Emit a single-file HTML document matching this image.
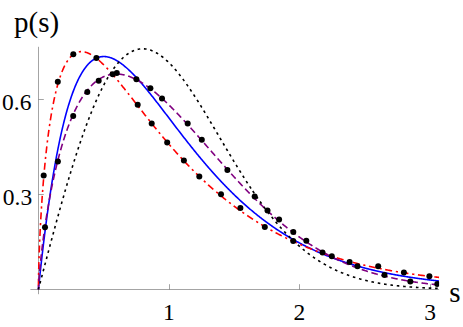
<!DOCTYPE html>
<html><head><meta charset="utf-8"><title>p(s)</title>
<style>
html,body{margin:0;padding:0;background:#fff;}
body{width:463px;height:327px;overflow:hidden;position:relative;font-family:"Liberation Serif",serif;color:#000;}
svg{position:absolute;left:0;top:0;}
.t{position:absolute;white-space:nowrap;line-height:1;}
</style></head><body>
<svg width="463" height="327" viewBox="0 0 463 327">
<defs><clipPath id="c"><rect x="30.4" y="46.4" width="408.70000000000005" height="247.79999999999998"/></clipPath></defs>
<g fill="none" stroke="#666666" stroke-width="0.6">
<path d="M30.4,289.5 H439.1"/>
<path d="M38.5,46.8 V294.2"/>
<path d="M169.5,289.5 V284.2 M299.5,289.5 V284.2 M430.5,289.5 V284.2"/>
<path d="M38.5,194.5 H43.8 M38.5,99.5 H43.8"/>
</g>
<g fill="none" stroke-width="1.6" clip-path="url(#c)" stroke-linejoin="round">
<path d="M38.40,289.40 L38.51,288.33 L38.62,287.26 L38.73,286.20 L38.84,285.14 L38.95,284.08 L39.06,283.03 L39.17,281.98 L39.29,280.93 L39.40,279.89 L39.51,278.85 L39.62,277.82 L39.73,276.78 L39.84,275.76 L39.95,274.73 L40.06,273.71 L40.17,272.69 L40.28,271.68 L40.39,270.67 L40.50,269.66 L40.61,268.66 L40.72,267.66 L40.83,266.66 L40.95,265.67 L41.06,264.68 L41.17,263.69 L41.28,262.71 L41.39,261.73 L41.50,260.75 L41.61,259.78 L41.72,258.81 L41.83,257.84 L41.94,256.88 L42.05,255.92 L42.16,254.96 L42.27,254.01 L42.38,253.06 L42.50,252.12 L42.61,251.17 L42.72,250.23 L42.83,249.30 L42.94,248.36 L43.05,247.44 L43.16,246.51 L43.27,245.59 L43.38,244.67 L43.49,243.75 L43.60,242.84 L43.71,241.93 L43.82,241.02 L43.93,240.11 L44.04,239.21 L44.16,238.32 L44.27,237.42 L44.38,236.53 L44.49,235.64 L44.60,234.76 L44.71,233.88 L44.82,233.00 L44.93,232.12 L45.49,227.71 L46.06,223.38 L46.62,219.13 L47.19,214.95 L47.75,210.86 L48.31,206.83 L48.88,202.89 L49.44,199.02 L50.01,195.22 L50.57,191.49 L51.13,187.83 L51.70,184.25 L52.26,180.73 L52.83,177.28 L53.39,173.90 L53.95,170.58 L54.52,167.33 L55.08,164.15 L55.65,161.03 L56.21,157.97 L56.77,154.97 L57.34,152.04 L57.90,149.17 L58.47,146.35 L59.03,143.59 L59.59,140.90 L60.16,138.26 L60.72,135.67 L61.29,133.14 L61.85,130.67 L62.41,128.25 L62.98,125.88 L63.54,123.57 L64.11,121.31 L64.67,119.10 L65.23,116.94 L65.80,114.82 L66.36,112.76 L66.92,110.75 L67.49,108.78 L68.05,106.87 L68.62,104.99 L69.18,103.17 L69.74,101.39 L70.31,99.65 L70.87,97.96 L71.44,96.31 L72.00,94.70 L72.56,93.13 L73.13,91.61 L73.69,90.13 L74.26,88.68 L74.82,87.28 L75.38,85.91 L75.95,84.59 L76.51,83.30 L77.08,82.05 L77.64,80.83 L78.20,79.65 L78.77,78.51 L79.33,77.40 L79.90,76.33 L80.46,75.29 L81.02,74.29 L81.59,73.32 L82.15,72.38 L82.72,71.47 L83.28,70.59 L83.84,69.75 L84.41,68.94 L84.97,68.15 L85.54,67.40 L86.10,66.68 L86.66,65.98 L87.23,65.31 L87.79,64.67 L88.36,64.06 L88.92,63.48 L89.48,62.92 L90.05,62.39 L90.61,61.88 L91.18,61.40 L91.74,60.95 L92.30,60.52 L92.87,60.11 L93.43,59.73 L94.00,59.37 L94.56,59.04 L95.12,58.73 L95.69,58.44 L96.25,58.17 L96.82,57.92 L97.38,57.70 L97.94,57.49 L98.51,57.31 L99.07,57.15 L99.64,57.00 L100.20,56.88 L100.76,56.78 L101.33,56.69 L101.89,56.62 L102.46,56.58 L103.02,56.55 L103.58,56.53 L104.15,56.54 L104.71,56.56 L105.27,56.60 L105.84,56.65 L106.40,56.73 L106.97,56.81 L107.53,56.92 L108.09,57.04 L108.66,57.17 L109.22,57.32 L109.79,57.48 L110.35,57.66 L110.91,57.85 L111.48,58.06 L112.04,58.28 L112.61,58.51 L113.17,58.76 L113.73,59.02 L114.30,59.29 L114.86,59.57 L115.43,59.87 L115.99,60.17 L116.55,60.49 L117.12,60.82 L117.68,61.17 L118.25,61.52 L118.81,61.88 L119.37,62.26 L119.94,62.64 L120.50,63.04 L121.07,63.44 L121.63,63.86 L122.19,64.28 L122.76,64.72 L123.32,65.16 L123.89,65.61 L124.45,66.07 L125.01,66.54 L125.58,67.02 L126.14,67.51 L126.71,68.00 L127.27,68.50 L127.83,69.01 L128.40,69.53 L128.96,70.05 L129.53,70.59 L130.09,71.12 L130.65,71.67 L131.22,72.22 L131.78,72.78 L132.35,73.35 L132.91,73.92 L133.47,74.50 L134.04,75.08 L134.60,75.67 L135.17,76.27 L135.73,76.87 L136.29,77.48 L136.86,78.09 L137.42,78.71 L137.99,79.33 L138.55,79.96 L139.11,80.59 L139.68,81.22 L140.24,81.86 L140.81,82.51 L141.37,83.16 L141.93,83.81 L142.50,84.47 L143.06,85.13 L143.63,85.80 L144.19,86.47 L144.75,87.14 L145.32,87.81 L145.88,88.49 L146.44,89.18 L147.01,89.86 L147.57,90.55 L148.14,91.24 L148.70,91.94 L149.26,92.63 L149.83,93.33 L150.39,94.04 L150.96,94.74 L151.52,95.45 L152.08,96.16 L152.65,96.87 L153.21,97.58 L153.78,98.30 L154.34,99.01 L154.90,99.73 L155.47,100.45 L156.03,101.18 L156.60,101.90 L157.16,102.63 L157.72,103.35 L158.29,104.08 L158.85,104.81 L159.42,105.54 L159.98,106.27 L160.54,107.01 L161.11,107.74 L161.67,108.47 L162.24,109.21 L162.80,109.94 L163.36,110.68 L163.93,111.42 L164.49,112.16 L165.06,112.89 L165.62,113.63 L166.18,114.37 L166.75,115.11 L167.31,115.85 L167.88,116.59 L168.44,117.33 L169.00,118.07 L169.57,118.81 L170.13,119.55 L170.70,120.29 L171.26,121.03 L171.82,121.77 L172.39,122.51 L172.95,123.25 L173.52,123.98 L174.08,124.72 L174.64,125.46 L175.21,126.20 L175.77,126.93 L176.34,127.67 L176.90,128.40 L177.46,129.14 L178.03,129.87 L178.59,130.61 L179.16,131.34 L179.72,132.07 L180.28,132.80 L180.85,133.53 L181.41,134.26 L181.98,134.99 L182.54,135.71 L183.10,136.44 L183.67,137.16 L184.23,137.89 L184.79,138.61 L185.36,139.33 L185.92,140.05 L186.49,140.77 L187.05,141.48 L187.61,142.20 L188.18,142.91 L188.74,143.63 L189.31,144.34 L189.87,145.05 L190.43,145.76 L191.00,146.46 L191.56,147.17 L192.13,147.87 L192.69,148.57 L193.25,149.28 L193.82,149.97 L194.38,150.67 L194.95,151.37 L195.51,152.06 L196.07,152.75 L196.64,153.44 L197.20,154.13 L197.77,154.82 L198.33,155.51 L198.89,156.19 L199.46,156.87 L200.02,157.55 L200.59,158.23 L201.15,158.90 L201.71,159.58 L202.28,160.25 L202.84,160.92 L203.41,161.59 L203.97,162.25 L204.53,162.92 L205.10,163.58 L205.66,164.24 L206.23,164.90 L206.79,165.55 L207.35,166.21 L207.92,166.86 L208.48,167.51 L209.05,168.16 L209.61,168.80 L210.17,169.44 L210.74,170.09 L211.30,170.72 L211.87,171.36 L212.43,172.00 L212.99,172.63 L213.56,173.26 L214.12,173.89 L214.69,174.51 L215.25,175.14 L215.81,175.76 L216.38,176.38 L216.94,176.99 L217.51,177.61 L218.07,178.22 L218.63,178.83 L219.20,179.44 L219.76,180.04 L220.33,180.65 L220.89,181.25 L221.45,181.85 L222.02,182.44 L222.58,183.04 L223.15,183.63 L223.71,184.22 L224.27,184.81 L224.84,185.39 L225.40,185.97 L225.96,186.55 L226.53,187.13 L227.09,187.71 L227.66,188.28 L228.22,188.85 L228.78,189.42 L229.35,189.98 L229.91,190.55 L230.48,191.11 L231.04,191.67 L231.60,192.23 L232.17,192.78 L232.73,193.33 L233.30,193.88 L233.86,194.43 L234.42,194.97 L234.99,195.52 L235.55,196.06 L236.12,196.60 L236.68,197.13 L237.24,197.66 L237.81,198.20 L238.37,198.72 L238.94,199.25 L239.50,199.77 L240.06,200.30 L240.63,200.81 L241.19,201.33 L241.76,201.85 L242.32,202.36 L242.88,202.87 L243.45,203.38 L244.01,203.88 L244.58,204.38 L245.14,204.88 L245.70,205.38 L246.27,205.88 L246.83,206.37 L247.40,206.86 L247.96,207.35 L248.52,207.84 L249.09,208.32 L249.65,208.81 L250.22,209.28 L250.78,209.76 L251.34,210.24 L251.91,210.71 L252.47,211.18 L253.04,211.65 L253.60,212.12 L254.16,212.58 L254.73,213.04 L255.29,213.50 L255.86,213.96 L256.42,214.41 L256.98,214.86 L257.55,215.31 L258.11,215.76 L258.68,216.21 L259.24,216.65 L259.80,217.09 L260.37,217.53 L260.93,217.97 L261.50,218.40 L262.06,218.84 L262.62,219.27 L263.19,219.70 L263.75,220.12 L264.31,220.55 L264.88,220.97 L265.44,221.39 L266.01,221.80 L266.57,222.22 L267.13,222.63 L267.70,223.04 L268.26,223.45 L268.83,223.86 L269.39,224.26 L269.95,224.67 L270.52,225.07 L271.08,225.46 L271.65,225.86 L272.21,226.26 L272.77,226.65 L273.34,227.04 L273.90,227.43 L274.47,227.81 L275.03,228.19 L275.59,228.58 L276.16,228.96 L276.72,229.33 L277.29,229.71 L277.85,230.08 L278.41,230.45 L278.98,230.82 L279.54,231.19 L280.11,231.56 L280.67,231.92 L281.23,232.28 L281.80,232.64 L282.36,233.00 L282.93,233.36 L283.49,233.71 L284.05,234.06 L284.62,234.41 L285.18,234.76 L285.75,235.11 L286.31,235.45 L286.87,235.79 L287.44,236.13 L288.00,236.47 L288.57,236.81 L289.13,237.14 L289.69,237.47 L290.26,237.81 L290.82,238.13 L291.39,238.46 L291.95,238.79 L292.51,239.11 L293.08,239.43 L293.64,239.75 L294.21,240.07 L294.77,240.39 L295.33,240.70 L295.90,241.01 L296.46,241.33 L297.03,241.64 L297.59,241.94 L298.15,242.25 L298.72,242.55 L299.28,242.85 L299.85,243.16 L300.41,243.45 L300.97,243.75 L301.54,244.05 L302.10,244.34 L302.66,244.63 L303.23,244.92 L303.79,245.21 L304.36,245.50 L304.92,245.78 L305.48,246.07 L306.05,246.35 L306.61,246.63 L307.18,246.91 L307.74,247.18 L308.30,247.46 L308.87,247.73 L309.43,248.01 L310.00,248.28 L310.56,248.55 L311.12,248.81 L311.69,249.08 L312.25,249.34 L312.82,249.61 L313.38,249.87 L313.94,250.13 L314.51,250.38 L315.07,250.64 L315.64,250.90 L316.20,251.15 L316.76,251.40 L317.33,251.65 L317.89,251.90 L318.46,252.15 L319.02,252.39 L319.58,252.64 L320.15,252.88 L320.71,253.12 L321.28,253.36 L321.84,253.60 L322.40,253.84 L322.97,254.07 L323.53,254.31 L324.10,254.54 L324.66,254.77 L325.22,255.00 L325.79,255.23 L326.35,255.46 L326.92,255.69 L327.48,255.91 L328.04,256.13 L328.61,256.36 L329.17,256.58 L329.74,256.80 L330.30,257.01 L330.86,257.23 L331.43,257.44 L331.99,257.66 L332.56,257.87 L333.12,258.08 L333.68,258.29 L334.25,258.50 L334.81,258.71 L335.38,258.91 L335.94,259.12 L336.50,259.32 L337.07,259.52 L337.63,259.73 L338.20,259.93 L338.76,260.12 L339.32,260.32 L339.89,260.52 L340.45,260.71 L341.02,260.91 L341.58,261.10 L342.14,261.29 L342.71,261.48 L343.27,261.67 L343.83,261.86 L344.40,262.04 L344.96,262.23 L345.53,262.41 L346.09,262.59 L346.65,262.78 L347.22,262.96 L347.78,263.14 L348.35,263.31 L348.91,263.49 L349.47,263.67 L350.04,263.84 L350.60,264.02 L351.17,264.19 L351.73,264.36 L352.29,264.53 L352.86,264.70 L353.42,264.87 L353.99,265.04 L354.55,265.20 L355.11,265.37 L355.68,265.53 L356.24,265.70 L356.81,265.86 L357.37,266.02 L357.93,266.18 L358.50,266.34 L359.06,266.50 L359.63,266.65 L360.19,266.81 L360.75,266.97 L361.32,267.12 L361.88,267.27 L362.45,267.42 L363.01,267.58 L363.57,267.73 L364.14,267.87 L364.70,268.02 L365.27,268.17 L365.83,268.32 L366.39,268.46 L366.96,268.61 L367.52,268.75 L368.09,268.89 L368.65,269.03 L369.21,269.17 L369.78,269.31 L370.34,269.45 L370.91,269.59 L371.47,269.73 L372.03,269.86 L372.60,270.00 L373.16,270.13 L373.73,270.27 L374.29,270.40 L374.85,270.53 L375.42,270.66 L375.98,270.79 L376.55,270.92 L377.11,271.05 L377.67,271.18 L378.24,271.30 L378.80,271.43 L379.37,271.55 L379.93,271.68 L380.49,271.80 L381.06,271.92 L381.62,272.05 L382.18,272.17 L382.75,272.29 L383.31,272.41 L383.88,272.53 L384.44,272.64 L385.00,272.76 L385.57,272.88 L386.13,272.99 L386.70,273.11 L387.26,273.22 L387.82,273.33 L388.39,273.45 L388.95,273.56 L389.52,273.67 L390.08,273.78 L390.64,273.89 L391.21,274.00 L391.77,274.11 L392.34,274.21 L392.90,274.32 L393.46,274.43 L394.03,274.53 L394.59,274.64 L395.16,274.74 L395.72,274.84 L396.28,274.94 L396.85,275.05 L397.41,275.15 L397.98,275.25 L398.54,275.35 L399.10,275.45 L399.67,275.54 L400.23,275.64 L400.80,275.74 L401.36,275.84 L401.92,275.93 L402.49,276.03 L403.05,276.12 L403.62,276.22 L404.18,276.31 L404.74,276.40 L405.31,276.49 L405.87,276.58 L406.44,276.67 L407.00,276.76 L407.56,276.85 L408.13,276.94 L408.69,277.03 L409.26,277.12 L409.82,277.21 L410.38,277.29 L410.95,277.38 L411.51,277.46 L412.08,277.55 L412.64,277.63 L413.20,277.72 L413.77,277.80 L414.33,277.88 L414.90,277.96 L415.46,278.05 L416.02,278.13 L416.59,278.21 L417.15,278.29 L417.72,278.37 L418.28,278.44 L418.84,278.52 L419.41,278.60 L419.97,278.68 L420.54,278.75 L421.10,278.83 L421.66,278.90 L422.23,278.98 L422.79,279.05 L423.35,279.13 L423.92,279.20 L424.48,279.27 L425.05,279.35 L425.61,279.42 L426.17,279.49 L426.74,279.56 L427.30,279.63 L427.87,279.70 L428.43,279.77 L428.99,279.84 L429.56,279.91 L430.12,279.98 L430.69,280.04 L431.25,280.11 L431.81,280.18 L432.38,280.24 L432.94,280.31 L433.51,280.37 L434.07,280.44 L434.63,280.50 L435.20,280.57 L435.76,280.63 L436.33,280.69 L436.89,280.76 L437.45,280.82 L438.02,280.88 L438.58,280.94 L439.15,281.00" stroke="#0000ff"/>
<path d="M38.40,289.40 L38.51,279.26 L38.62,273.60 L38.73,268.93 L38.84,264.82 L38.95,261.08 L39.06,257.62 L39.17,254.38 L39.29,251.31 L39.40,248.39 L39.51,245.60 L39.62,242.91 L39.73,240.33 L39.84,237.83 L39.95,235.42 L40.06,233.07 L40.17,230.80 L40.28,228.58 L40.39,226.42 L40.50,224.31 L40.61,222.25 L40.72,220.24 L40.83,218.27 L40.95,216.35 L41.06,214.46 L41.17,212.61 L41.28,210.79 L41.39,209.01 L41.50,207.26 L41.61,205.54 L41.72,203.85 L41.83,202.19 L41.94,200.55 L42.05,198.94 L42.16,197.36 L42.27,195.80 L42.38,194.26 L42.50,192.75 L42.61,191.26 L42.72,189.79 L42.83,188.34 L42.94,186.91 L43.05,185.50 L43.16,184.11 L43.27,182.74 L43.38,181.38 L43.49,180.05 L43.60,178.73 L43.71,177.42 L43.82,176.13 L43.93,174.86 L44.04,173.61 L44.16,172.37 L44.27,171.14 L44.38,169.93 L44.49,168.73 L44.60,167.55 L44.71,166.38 L44.82,165.22 L44.93,164.08 L45.49,158.44 L46.06,153.10 L46.62,148.05 L47.19,143.24 L47.75,138.67 L48.31,134.32 L48.88,130.17 L49.44,126.21 L50.01,122.44 L50.57,118.83 L51.13,115.38 L51.70,112.09 L52.26,108.94 L52.83,105.92 L53.39,103.04 L53.95,100.28 L54.52,97.64 L55.08,95.11 L55.65,92.69 L56.21,90.38 L56.77,88.17 L57.34,86.05 L57.90,84.02 L58.47,82.08 L59.03,80.23 L59.59,78.46 L60.16,76.77 L60.72,75.16 L61.29,73.61 L61.85,72.14 L62.41,70.74 L62.98,69.41 L63.54,68.13 L64.11,66.92 L64.67,65.77 L65.23,64.68 L65.80,63.65 L66.36,62.66 L66.92,61.73 L67.49,60.85 L68.05,60.03 L68.62,59.24 L69.18,58.51 L69.74,57.82 L70.31,57.17 L70.87,56.56 L71.44,56.00 L72.00,55.47 L72.56,54.99 L73.13,54.54 L73.69,54.13 L74.26,53.75 L74.82,53.41 L75.38,53.10 L75.95,52.82 L76.51,52.57 L77.08,52.36 L77.64,52.17 L78.20,52.01 L78.77,51.88 L79.33,51.78 L79.90,51.70 L80.46,51.65 L81.02,51.62 L81.59,51.62 L82.15,51.64 L82.72,51.69 L83.28,51.75 L83.84,51.84 L84.41,51.95 L84.97,52.08 L85.54,52.23 L86.10,52.40 L86.66,52.58 L87.23,52.79 L87.79,53.01 L88.36,53.25 L88.92,53.51 L89.48,53.78 L90.05,54.07 L90.61,54.37 L91.18,54.69 L91.74,55.02 L92.30,55.37 L92.87,55.73 L93.43,56.10 L94.00,56.49 L94.56,56.89 L95.12,57.30 L95.69,57.72 L96.25,58.16 L96.82,58.60 L97.38,59.06 L97.94,59.52 L98.51,60.00 L99.07,60.49 L99.64,60.98 L100.20,61.49 L100.76,62.00 L101.33,62.52 L101.89,63.06 L102.46,63.59 L103.02,64.14 L103.58,64.70 L104.15,65.26 L104.71,65.83 L105.27,66.40 L105.84,66.99 L106.40,67.58 L106.97,68.17 L107.53,68.77 L108.09,69.38 L108.66,69.99 L109.22,70.61 L109.79,71.24 L110.35,71.87 L110.91,72.50 L111.48,73.14 L112.04,73.78 L112.61,74.43 L113.17,75.08 L113.73,75.74 L114.30,76.40 L114.86,77.06 L115.43,77.73 L115.99,78.40 L116.55,79.07 L117.12,79.75 L117.68,80.43 L118.25,81.11 L118.81,81.80 L119.37,82.49 L119.94,83.18 L120.50,83.87 L121.07,84.57 L121.63,85.27 L122.19,85.97 L122.76,86.67 L123.32,87.38 L123.89,88.08 L124.45,88.79 L125.01,89.50 L125.58,90.21 L126.14,90.92 L126.71,91.63 L127.27,92.35 L127.83,93.06 L128.40,93.78 L128.96,94.50 L129.53,95.22 L130.09,95.93 L130.65,96.65 L131.22,97.37 L131.78,98.10 L132.35,98.82 L132.91,99.54 L133.47,100.26 L134.04,100.98 L134.60,101.71 L135.17,102.43 L135.73,103.15 L136.29,103.87 L136.86,104.60 L137.42,105.32 L137.99,106.04 L138.55,106.76 L139.11,107.48 L139.68,108.20 L140.24,108.93 L140.81,109.65 L141.37,110.37 L141.93,111.09 L142.50,111.80 L143.06,112.52 L143.63,113.24 L144.19,113.96 L144.75,114.67 L145.32,115.39 L145.88,116.10 L146.44,116.81 L147.01,117.53 L147.57,118.24 L148.14,118.95 L148.70,119.66 L149.26,120.37 L149.83,121.07 L150.39,121.78 L150.96,122.48 L151.52,123.19 L152.08,123.89 L152.65,124.59 L153.21,125.29 L153.78,125.99 L154.34,126.69 L154.90,127.38 L155.47,128.08 L156.03,128.77 L156.60,129.46 L157.16,130.15 L157.72,130.84 L158.29,131.53 L158.85,132.21 L159.42,132.90 L159.98,133.58 L160.54,134.26 L161.11,134.94 L161.67,135.61 L162.24,136.29 L162.80,136.96 L163.36,137.64 L163.93,138.31 L164.49,138.98 L165.06,139.64 L165.62,140.31 L166.18,140.97 L166.75,141.63 L167.31,142.29 L167.88,142.95 L168.44,143.61 L169.00,144.26 L169.57,144.91 L170.13,145.56 L170.70,146.21 L171.26,146.86 L171.82,147.50 L172.39,148.15 L172.95,148.79 L173.52,149.43 L174.08,150.06 L174.64,150.70 L175.21,151.33 L175.77,151.96 L176.34,152.59 L176.90,153.22 L177.46,153.84 L178.03,154.47 L178.59,155.09 L179.16,155.71 L179.72,156.33 L180.28,156.94 L180.85,157.55 L181.41,158.16 L181.98,158.77 L182.54,159.38 L183.10,159.99 L183.67,160.59 L184.23,161.19 L184.79,161.79 L185.36,162.38 L185.92,162.98 L186.49,163.57 L187.05,164.16 L187.61,164.75 L188.18,165.34 L188.74,165.92 L189.31,166.50 L189.87,167.08 L190.43,167.66 L191.00,168.24 L191.56,168.81 L192.13,169.38 L192.69,169.95 L193.25,170.52 L193.82,171.08 L194.38,171.65 L194.95,172.21 L195.51,172.77 L196.07,173.33 L196.64,173.88 L197.20,174.43 L197.77,174.98 L198.33,175.53 L198.89,176.08 L199.46,176.62 L200.02,177.17 L200.59,177.71 L201.15,178.24 L201.71,178.78 L202.28,179.31 L202.84,179.85 L203.41,180.38 L203.97,180.90 L204.53,181.43 L205.10,181.95 L205.66,182.47 L206.23,182.99 L206.79,183.51 L207.35,184.03 L207.92,184.54 L208.48,185.05 L209.05,185.56 L209.61,186.07 L210.17,186.57 L210.74,187.08 L211.30,187.58 L211.87,188.08 L212.43,188.57 L212.99,189.07 L213.56,189.56 L214.12,190.05 L214.69,190.54 L215.25,191.03 L215.81,191.51 L216.38,191.99 L216.94,192.47 L217.51,192.95 L218.07,193.43 L218.63,193.90 L219.20,194.38 L219.76,194.85 L220.33,195.32 L220.89,195.78 L221.45,196.25 L222.02,196.71 L222.58,197.17 L223.15,197.63 L223.71,198.09 L224.27,198.54 L224.84,199.00 L225.40,199.45 L225.96,199.90 L226.53,200.35 L227.09,200.79 L227.66,201.24 L228.22,201.68 L228.78,202.12 L229.35,202.56 L229.91,202.99 L230.48,203.43 L231.04,203.86 L231.60,204.29 L232.17,204.72 L232.73,205.15 L233.30,205.58 L233.86,206.00 L234.42,206.42 L234.99,206.84 L235.55,207.26 L236.12,207.68 L236.68,208.09 L237.24,208.51 L237.81,208.92 L238.37,209.33 L238.94,209.73 L239.50,210.14 L240.06,210.54 L240.63,210.95 L241.19,211.35 L241.76,211.75 L242.32,212.14 L242.88,212.54 L243.45,212.93 L244.01,213.32 L244.58,213.71 L245.14,214.10 L245.70,214.49 L246.27,214.88 L246.83,215.26 L247.40,215.64 L247.96,216.02 L248.52,216.40 L249.09,216.78 L249.65,217.15 L250.22,217.52 L250.78,217.90 L251.34,218.27 L251.91,218.63 L252.47,219.00 L253.04,219.36 L253.60,219.73 L254.16,220.09 L254.73,220.45 L255.29,220.81 L255.86,221.16 L256.42,221.52 L256.98,221.87 L257.55,222.23 L258.11,222.58 L258.68,222.92 L259.24,223.27 L259.80,223.62 L260.37,223.96 L260.93,224.30 L261.50,224.64 L262.06,224.98 L262.62,225.32 L263.19,225.66 L263.75,225.99 L264.31,226.32 L264.88,226.66 L265.44,226.98 L266.01,227.31 L266.57,227.64 L267.13,227.97 L267.70,228.29 L268.26,228.61 L268.83,228.93 L269.39,229.25 L269.95,229.57 L270.52,229.88 L271.08,230.20 L271.65,230.51 L272.21,230.82 L272.77,231.13 L273.34,231.44 L273.90,231.75 L274.47,232.06 L275.03,232.36 L275.59,232.66 L276.16,232.96 L276.72,233.26 L277.29,233.56 L277.85,233.86 L278.41,234.15 L278.98,234.45 L279.54,234.74 L280.11,235.03 L280.67,235.32 L281.23,235.61 L281.80,235.90 L282.36,236.18 L282.93,236.47 L283.49,236.75 L284.05,237.03 L284.62,237.31 L285.18,237.59 L285.75,237.87 L286.31,238.14 L286.87,238.42 L287.44,238.69 L288.00,238.96 L288.57,239.23 L289.13,239.50 L289.69,239.77 L290.26,240.04 L290.82,240.30 L291.39,240.57 L291.95,240.83 L292.51,241.09 L293.08,241.35 L293.64,241.61 L294.21,241.87 L294.77,242.12 L295.33,242.38 L295.90,242.63 L296.46,242.88 L297.03,243.13 L297.59,243.38 L298.15,243.63 L298.72,243.88 L299.28,244.12 L299.85,244.37 L300.41,244.61 L300.97,244.85 L301.54,245.09 L302.10,245.33 L302.66,245.57 L303.23,245.81 L303.79,246.04 L304.36,246.28 L304.92,246.51 L305.48,246.74 L306.05,246.97 L306.61,247.20 L307.18,247.43 L307.74,247.66 L308.30,247.88 L308.87,248.11 L309.43,248.33 L310.00,248.56 L310.56,248.78 L311.12,249.00 L311.69,249.22 L312.25,249.43 L312.82,249.65 L313.38,249.86 L313.94,250.08 L314.51,250.29 L315.07,250.50 L315.64,250.71 L316.20,250.92 L316.76,251.13 L317.33,251.34 L317.89,251.55 L318.46,251.75 L319.02,251.96 L319.58,252.16 L320.15,252.36 L320.71,252.56 L321.28,252.76 L321.84,252.96 L322.40,253.16 L322.97,253.35 L323.53,253.55 L324.10,253.74 L324.66,253.93 L325.22,254.13 L325.79,254.32 L326.35,254.51 L326.92,254.70 L327.48,254.88 L328.04,255.07 L328.61,255.26 L329.17,255.44 L329.74,255.62 L330.30,255.81 L330.86,255.99 L331.43,256.17 L331.99,256.35 L332.56,256.53 L333.12,256.71 L333.68,256.88 L334.25,257.06 L334.81,257.24 L335.38,257.41 L335.94,257.58 L336.50,257.76 L337.07,257.93 L337.63,258.10 L338.20,258.27 L338.76,258.44 L339.32,258.60 L339.89,258.77 L340.45,258.94 L341.02,259.10 L341.58,259.27 L342.14,259.43 L342.71,259.59 L343.27,259.75 L343.83,259.91 L344.40,260.07 L344.96,260.23 L345.53,260.39 L346.09,260.55 L346.65,260.71 L347.22,260.86 L347.78,261.02 L348.35,261.17 L348.91,261.32 L349.47,261.48 L350.04,261.63 L350.60,261.78 L351.17,261.93 L351.73,262.08 L352.29,262.22 L352.86,262.37 L353.42,262.52 L353.99,262.66 L354.55,262.81 L355.11,262.95 L355.68,263.10 L356.24,263.24 L356.81,263.38 L357.37,263.52 L357.93,263.66 L358.50,263.80 L359.06,263.94 L359.63,264.08 L360.19,264.22 L360.75,264.35 L361.32,264.49 L361.88,264.62 L362.45,264.76 L363.01,264.89 L363.57,265.02 L364.14,265.15 L364.70,265.29 L365.27,265.42 L365.83,265.55 L366.39,265.68 L366.96,265.80 L367.52,265.93 L368.09,266.06 L368.65,266.18 L369.21,266.31 L369.78,266.43 L370.34,266.56 L370.91,266.68 L371.47,266.81 L372.03,266.93 L372.60,267.05 L373.16,267.17 L373.73,267.29 L374.29,267.41 L374.85,267.53 L375.42,267.65 L375.98,267.76 L376.55,267.88 L377.11,268.00 L377.67,268.11 L378.24,268.23 L378.80,268.34 L379.37,268.45 L379.93,268.57 L380.49,268.68 L381.06,268.79 L381.62,268.90 L382.18,269.01 L382.75,269.12 L383.31,269.23 L383.88,269.34 L384.44,269.44 L385.00,269.55 L385.57,269.66 L386.13,269.76 L386.70,269.87 L387.26,269.97 L387.82,270.08 L388.39,270.18 L388.95,270.28 L389.52,270.39 L390.08,270.49 L390.64,270.59 L391.21,270.69 L391.77,270.79 L392.34,270.89 L392.90,270.99 L393.46,271.09 L394.03,271.19 L394.59,271.28 L395.16,271.38 L395.72,271.47 L396.28,271.57 L396.85,271.67 L397.41,271.76 L397.98,271.85 L398.54,271.95 L399.10,272.04 L399.67,272.13 L400.23,272.22 L400.80,272.31 L401.36,272.41 L401.92,272.50 L402.49,272.59 L403.05,272.67 L403.62,272.76 L404.18,272.85 L404.74,272.94 L405.31,273.03 L405.87,273.11 L406.44,273.20 L407.00,273.28 L407.56,273.37 L408.13,273.45 L408.69,273.54 L409.26,273.62 L409.82,273.70 L410.38,273.79 L410.95,273.87 L411.51,273.95 L412.08,274.03 L412.64,274.11 L413.20,274.19 L413.77,274.27 L414.33,274.35 L414.90,274.43 L415.46,274.51 L416.02,274.58 L416.59,274.66 L417.15,274.74 L417.72,274.82 L418.28,274.89 L418.84,274.97 L419.41,275.04 L419.97,275.12 L420.54,275.19 L421.10,275.26 L421.66,275.34 L422.23,275.41 L422.79,275.48 L423.35,275.56 L423.92,275.63 L424.48,275.70 L425.05,275.77 L425.61,275.84 L426.17,275.91 L426.74,275.98 L427.30,276.05 L427.87,276.12 L428.43,276.18 L428.99,276.25 L429.56,276.32 L430.12,276.39 L430.69,276.45 L431.25,276.52 L431.81,276.58 L432.38,276.65 L432.94,276.72 L433.51,276.78 L434.07,276.84 L434.63,276.91 L435.20,276.97 L435.76,277.03 L436.33,277.10 L436.89,277.16 L437.45,277.22 L438.02,277.28 L438.58,277.34 L439.15,277.40" stroke="#ff0000" stroke-dasharray="2.2 3.6 7.0 3.79" stroke-dashoffset="2.1"/>
<path d="M38.40,289.40 L38.51,286.54 L38.62,284.52 L38.73,282.73 L38.84,281.08 L38.95,279.53 L39.06,278.05 L39.17,276.62 L39.29,275.25 L39.40,273.92 L39.51,272.63 L39.62,271.36 L39.73,270.13 L39.84,268.92 L39.95,267.74 L40.06,266.58 L40.17,265.44 L40.28,264.32 L40.39,263.21 L40.50,262.12 L40.61,261.05 L40.72,259.99 L40.83,258.95 L40.95,257.92 L41.06,256.90 L41.17,255.90 L41.28,254.90 L41.39,253.92 L41.50,252.95 L41.61,251.99 L41.72,251.03 L41.83,250.09 L41.94,249.16 L42.05,248.23 L42.16,247.32 L42.27,246.41 L42.38,245.51 L42.50,244.62 L42.61,243.74 L42.72,242.86 L42.83,241.99 L42.94,241.13 L43.05,240.27 L43.16,239.42 L43.27,238.58 L43.38,237.75 L43.49,236.92 L43.60,236.10 L43.71,235.28 L43.82,234.47 L43.93,233.66 L44.04,232.86 L44.16,232.07 L44.27,231.28 L44.38,230.50 L44.49,229.72 L44.60,228.95 L44.71,228.18 L44.82,227.41 L44.93,226.66 L45.49,222.87 L46.06,219.19 L46.62,215.63 L47.19,212.16 L47.75,208.79 L48.31,205.51 L48.88,202.31 L49.44,199.19 L50.01,196.15 L50.57,193.19 L51.13,190.29 L51.70,187.46 L52.26,184.69 L52.83,181.99 L53.39,179.35 L53.95,176.77 L54.52,174.24 L55.08,171.76 L55.65,169.34 L56.21,166.97 L56.77,164.65 L57.34,162.38 L57.90,160.16 L58.47,157.98 L59.03,155.85 L59.59,153.76 L60.16,151.71 L60.72,149.71 L61.29,147.74 L61.85,145.82 L62.41,143.93 L62.98,142.08 L63.54,140.27 L64.11,138.50 L64.67,136.76 L65.23,135.06 L65.80,133.39 L66.36,131.75 L66.92,130.15 L67.49,128.58 L68.05,127.04 L68.62,125.53 L69.18,124.06 L69.74,122.61 L70.31,121.19 L70.87,119.81 L71.44,118.45 L72.00,117.12 L72.56,115.81 L73.13,114.54 L73.69,113.29 L74.26,112.06 L74.82,110.86 L75.38,109.69 L75.95,108.55 L76.51,107.42 L77.08,106.33 L77.64,105.25 L78.20,104.20 L78.77,103.17 L79.33,102.17 L79.90,101.19 L80.46,100.23 L81.02,99.29 L81.59,98.38 L82.15,97.48 L82.72,96.61 L83.28,95.75 L83.84,94.92 L84.41,94.11 L84.97,93.32 L85.54,92.54 L86.10,91.79 L86.66,91.06 L87.23,90.34 L87.79,89.64 L88.36,88.96 L88.92,88.30 L89.48,87.66 L90.05,87.04 L90.61,86.43 L91.18,85.84 L91.74,85.26 L92.30,84.71 L92.87,84.17 L93.43,83.64 L94.00,83.13 L94.56,82.64 L95.12,82.17 L95.69,81.70 L96.25,81.26 L96.82,80.83 L97.38,80.41 L97.94,80.01 L98.51,79.63 L99.07,79.25 L99.64,78.90 L100.20,78.55 L100.76,78.22 L101.33,77.91 L101.89,77.61 L102.46,77.32 L103.02,77.04 L103.58,76.78 L104.15,76.53 L104.71,76.30 L105.27,76.07 L105.84,75.86 L106.40,75.66 L106.97,75.47 L107.53,75.30 L108.09,75.14 L108.66,74.99 L109.22,74.85 L109.79,74.72 L110.35,74.60 L110.91,74.50 L111.48,74.40 L112.04,74.32 L112.61,74.25 L113.17,74.18 L113.73,74.13 L114.30,74.09 L114.86,74.06 L115.43,74.04 L115.99,74.03 L116.55,74.03 L117.12,74.04 L117.68,74.06 L118.25,74.09 L118.81,74.13 L119.37,74.18 L119.94,74.24 L120.50,74.31 L121.07,74.38 L121.63,74.47 L122.19,74.56 L122.76,74.67 L123.32,74.78 L123.89,74.90 L124.45,75.03 L125.01,75.16 L125.58,75.31 L126.14,75.46 L126.71,75.63 L127.27,75.80 L127.83,75.97 L128.40,76.16 L128.96,76.35 L129.53,76.55 L130.09,76.76 L130.65,76.98 L131.22,77.20 L131.78,77.43 L132.35,77.67 L132.91,77.92 L133.47,78.17 L134.04,78.43 L134.60,78.69 L135.17,78.97 L135.73,79.25 L136.29,79.53 L136.86,79.83 L137.42,80.13 L137.99,80.43 L138.55,80.74 L139.11,81.06 L139.68,81.39 L140.24,81.72 L140.81,82.05 L141.37,82.40 L141.93,82.74 L142.50,83.10 L143.06,83.46 L143.63,83.82 L144.19,84.19 L144.75,84.57 L145.32,84.95 L145.88,85.34 L146.44,85.73 L147.01,86.13 L147.57,86.53 L148.14,86.94 L148.70,87.35 L149.26,87.77 L149.83,88.19 L150.39,88.62 L150.96,89.05 L151.52,89.49 L152.08,89.93 L152.65,90.38 L153.21,90.83 L153.78,91.28 L154.34,91.74 L154.90,92.21 L155.47,92.67 L156.03,93.15 L156.60,93.62 L157.16,94.10 L157.72,94.59 L158.29,95.07 L158.85,95.57 L159.42,96.06 L159.98,96.56 L160.54,97.06 L161.11,97.57 L161.67,98.08 L162.24,98.60 L162.80,99.11 L163.36,99.63 L163.93,100.16 L164.49,100.69 L165.06,101.22 L165.62,101.75 L166.18,102.29 L166.75,102.83 L167.31,103.37 L167.88,103.92 L168.44,104.47 L169.00,105.02 L169.57,105.57 L170.13,106.13 L170.70,106.69 L171.26,107.26 L171.82,107.82 L172.39,108.39 L172.95,108.96 L173.52,109.53 L174.08,110.11 L174.64,110.69 L175.21,111.27 L175.77,111.85 L176.34,112.44 L176.90,113.02 L177.46,113.61 L178.03,114.20 L178.59,114.80 L179.16,115.39 L179.72,115.99 L180.28,116.59 L180.85,117.19 L181.41,117.79 L181.98,118.40 L182.54,119.00 L183.10,119.61 L183.67,120.22 L184.23,120.83 L184.79,121.45 L185.36,122.06 L185.92,122.68 L186.49,123.30 L187.05,123.91 L187.61,124.53 L188.18,125.16 L188.74,125.78 L189.31,126.40 L189.87,127.03 L190.43,127.66 L191.00,128.28 L191.56,128.91 L192.13,129.54 L192.69,130.17 L193.25,130.80 L193.82,131.44 L194.38,132.07 L194.95,132.70 L195.51,133.34 L196.07,133.98 L196.64,134.61 L197.20,135.25 L197.77,135.89 L198.33,136.53 L198.89,137.17 L199.46,137.81 L200.02,138.45 L200.59,139.09 L201.15,139.73 L201.71,140.37 L202.28,141.01 L202.84,141.66 L203.41,142.30 L203.97,142.94 L204.53,143.58 L205.10,144.23 L205.66,144.87 L206.23,145.52 L206.79,146.16 L207.35,146.80 L207.92,147.45 L208.48,148.09 L209.05,148.74 L209.61,149.38 L210.17,150.03 L210.74,150.67 L211.30,151.31 L211.87,151.96 L212.43,152.60 L212.99,153.25 L213.56,153.89 L214.12,154.53 L214.69,155.18 L215.25,155.82 L215.81,156.46 L216.38,157.10 L216.94,157.74 L217.51,158.38 L218.07,159.02 L218.63,159.66 L219.20,160.30 L219.76,160.94 L220.33,161.58 L220.89,162.22 L221.45,162.86 L222.02,163.49 L222.58,164.13 L223.15,164.76 L223.71,165.40 L224.27,166.03 L224.84,166.66 L225.40,167.30 L225.96,167.93 L226.53,168.56 L227.09,169.19 L227.66,169.82 L228.22,170.44 L228.78,171.07 L229.35,171.70 L229.91,172.32 L230.48,172.95 L231.04,173.57 L231.60,174.19 L232.17,174.81 L232.73,175.43 L233.30,176.05 L233.86,176.67 L234.42,177.29 L234.99,177.90 L235.55,178.52 L236.12,179.13 L236.68,179.74 L237.24,180.35 L237.81,180.96 L238.37,181.57 L238.94,182.18 L239.50,182.78 L240.06,183.39 L240.63,183.99 L241.19,184.59 L241.76,185.19 L242.32,185.79 L242.88,186.39 L243.45,186.98 L244.01,187.58 L244.58,188.17 L245.14,188.76 L245.70,189.35 L246.27,189.94 L246.83,190.53 L247.40,191.11 L247.96,191.70 L248.52,192.28 L249.09,192.86 L249.65,193.44 L250.22,194.02 L250.78,194.59 L251.34,195.17 L251.91,195.74 L252.47,196.31 L253.04,196.88 L253.60,197.45 L254.16,198.01 L254.73,198.58 L255.29,199.14 L255.86,199.70 L256.42,200.26 L256.98,200.82 L257.55,201.37 L258.11,201.93 L258.68,202.48 L259.24,203.03 L259.80,203.58 L260.37,204.13 L260.93,204.67 L261.50,205.21 L262.06,205.75 L262.62,206.29 L263.19,206.83 L263.75,207.37 L264.31,207.90 L264.88,208.43 L265.44,208.96 L266.01,209.49 L266.57,210.01 L267.13,210.54 L267.70,211.06 L268.26,211.58 L268.83,212.10 L269.39,212.61 L269.95,213.13 L270.52,213.64 L271.08,214.15 L271.65,214.66 L272.21,215.16 L272.77,215.67 L273.34,216.17 L273.90,216.67 L274.47,217.17 L275.03,217.66 L275.59,218.16 L276.16,218.65 L276.72,219.14 L277.29,219.63 L277.85,220.11 L278.41,220.60 L278.98,221.08 L279.54,221.56 L280.11,222.04 L280.67,222.51 L281.23,222.99 L281.80,223.46 L282.36,223.93 L282.93,224.39 L283.49,224.86 L284.05,225.32 L284.62,225.78 L285.18,226.24 L285.75,226.70 L286.31,227.15 L286.87,227.60 L287.44,228.05 L288.00,228.50 L288.57,228.95 L289.13,229.39 L289.69,229.83 L290.26,230.27 L290.82,230.71 L291.39,231.14 L291.95,231.58 L292.51,232.01 L293.08,232.44 L293.64,232.86 L294.21,233.29 L294.77,233.71 L295.33,234.13 L295.90,234.55 L296.46,234.97 L297.03,235.38 L297.59,235.79 L298.15,236.20 L298.72,236.61 L299.28,237.01 L299.85,237.42 L300.41,237.82 L300.97,238.22 L301.54,238.61 L302.10,239.01 L302.66,239.40 L303.23,239.79 L303.79,240.18 L304.36,240.57 L304.92,240.95 L305.48,241.33 L306.05,241.71 L306.61,242.09 L307.18,242.47 L307.74,242.84 L308.30,243.21 L308.87,243.58 L309.43,243.95 L310.00,244.31 L310.56,244.68 L311.12,245.04 L311.69,245.39 L312.25,245.75 L312.82,246.11 L313.38,246.46 L313.94,246.81 L314.51,247.16 L315.07,247.50 L315.64,247.85 L316.20,248.19 L316.76,248.53 L317.33,248.87 L317.89,249.20 L318.46,249.54 L319.02,249.87 L319.58,250.20 L320.15,250.53 L320.71,250.85 L321.28,251.18 L321.84,251.50 L322.40,251.82 L322.97,252.14 L323.53,252.45 L324.10,252.77 L324.66,253.08 L325.22,253.39 L325.79,253.70 L326.35,254.00 L326.92,254.31 L327.48,254.61 L328.04,254.91 L328.61,255.21 L329.17,255.50 L329.74,255.80 L330.30,256.09 L330.86,256.38 L331.43,256.67 L331.99,256.95 L332.56,257.24 L333.12,257.52 L333.68,257.80 L334.25,258.08 L334.81,258.35 L335.38,258.63 L335.94,258.90 L336.50,259.17 L337.07,259.44 L337.63,259.71 L338.20,259.98 L338.76,260.24 L339.32,260.50 L339.89,260.76 L340.45,261.02 L341.02,261.28 L341.58,261.53 L342.14,261.78 L342.71,262.03 L343.27,262.28 L343.83,262.53 L344.40,262.78 L344.96,263.02 L345.53,263.26 L346.09,263.50 L346.65,263.74 L347.22,263.98 L347.78,264.21 L348.35,264.45 L348.91,264.68 L349.47,264.91 L350.04,265.14 L350.60,265.36 L351.17,265.59 L351.73,265.81 L352.29,266.03 L352.86,266.25 L353.42,266.47 L353.99,266.69 L354.55,266.90 L355.11,267.11 L355.68,267.33 L356.24,267.54 L356.81,267.74 L357.37,267.95 L357.93,268.16 L358.50,268.36 L359.06,268.56 L359.63,268.76 L360.19,268.96 L360.75,269.16 L361.32,269.35 L361.88,269.55 L362.45,269.74 L363.01,269.93 L363.57,270.12 L364.14,270.31 L364.70,270.50 L365.27,270.68 L365.83,270.86 L366.39,271.05 L366.96,271.23 L367.52,271.41 L368.09,271.58 L368.65,271.76 L369.21,271.94 L369.78,272.11 L370.34,272.28 L370.91,272.45 L371.47,272.62 L372.03,272.79 L372.60,272.95 L373.16,273.12 L373.73,273.28 L374.29,273.44 L374.85,273.61 L375.42,273.77 L375.98,273.92 L376.55,274.08 L377.11,274.24 L377.67,274.39 L378.24,274.54 L378.80,274.69 L379.37,274.84 L379.93,274.99 L380.49,275.14 L381.06,275.29 L381.62,275.43 L382.18,275.58 L382.75,275.72 L383.31,275.86 L383.88,276.00 L384.44,276.14 L385.00,276.28 L385.57,276.41 L386.13,276.55 L386.70,276.68 L387.26,276.81 L387.82,276.95 L388.39,277.08 L388.95,277.21 L389.52,277.33 L390.08,277.46 L390.64,277.59 L391.21,277.71 L391.77,277.84 L392.34,277.96 L392.90,278.08 L393.46,278.20 L394.03,278.32 L394.59,278.44 L395.16,278.55 L395.72,278.67 L396.28,278.79 L396.85,278.90 L397.41,279.01 L397.98,279.12 L398.54,279.23 L399.10,279.34 L399.67,279.45 L400.23,279.56 L400.80,279.67 L401.36,279.77 L401.92,279.88 L402.49,279.98 L403.05,280.08 L403.62,280.18 L404.18,280.29 L404.74,280.39 L405.31,280.48 L405.87,280.58 L406.44,280.68 L407.00,280.77 L407.56,280.87 L408.13,280.96 L408.69,281.06 L409.26,281.15 L409.82,281.24 L410.38,281.33 L410.95,281.42 L411.51,281.51 L412.08,281.60 L412.64,281.69 L413.20,281.77 L413.77,281.86 L414.33,281.94 L414.90,282.03 L415.46,282.11 L416.02,282.19 L416.59,282.27 L417.15,282.35 L417.72,282.43 L418.28,282.51 L418.84,282.59 L419.41,282.67 L419.97,282.74 L420.54,282.82 L421.10,282.89 L421.66,282.97 L422.23,283.04 L422.79,283.11 L423.35,283.19 L423.92,283.26 L424.48,283.33 L425.05,283.40 L425.61,283.47 L426.17,283.53 L426.74,283.60 L427.30,283.67 L427.87,283.74 L428.43,283.80 L428.99,283.87 L429.56,283.93 L430.12,283.99 L430.69,284.06 L431.25,284.12 L431.81,284.18 L432.38,284.24 L432.94,284.30 L433.51,284.36 L434.07,284.42 L434.63,284.48 L435.20,284.54 L435.76,284.59 L436.33,284.65 L436.89,284.71 L437.45,284.76 L438.02,284.82 L438.58,284.87 L439.15,284.93" stroke="#800080" stroke-dasharray="6.6 3.63" stroke-dashoffset="2.0"/>
<path d="M38.40,289.40 L38.51,288.98 L38.62,288.56 L38.73,288.14 L38.84,287.71 L38.95,287.29 L39.06,286.87 L39.17,286.45 L39.29,286.03 L39.40,285.61 L39.51,285.19 L39.62,284.77 L39.73,284.34 L39.84,283.92 L39.95,283.50 L40.06,283.08 L40.17,282.66 L40.28,282.24 L40.39,281.82 L40.50,281.40 L40.61,280.98 L40.72,280.55 L40.83,280.13 L40.95,279.71 L41.06,279.29 L41.17,278.87 L41.28,278.45 L41.39,278.03 L41.50,277.61 L41.61,277.19 L41.72,276.77 L41.83,276.35 L41.94,275.93 L42.05,275.50 L42.16,275.08 L42.27,274.66 L42.38,274.24 L42.50,273.82 L42.61,273.40 L42.72,272.98 L42.83,272.56 L42.94,272.14 L43.05,271.72 L43.16,271.30 L43.27,270.88 L43.38,270.46 L43.49,270.04 L43.60,269.62 L43.71,269.20 L43.82,268.78 L43.93,268.36 L44.04,267.94 L44.16,267.52 L44.27,267.11 L44.38,266.69 L44.49,266.27 L44.60,265.85 L44.71,265.43 L44.82,265.01 L44.93,264.59 L45.49,262.46 L46.06,260.33 L46.62,258.20 L47.19,256.07 L47.75,253.95 L48.31,251.83 L48.88,249.72 L49.44,247.60 L50.01,245.49 L50.57,243.39 L51.13,241.29 L51.70,239.19 L52.26,237.10 L52.83,235.01 L53.39,232.93 L53.95,230.85 L54.52,228.77 L55.08,226.71 L55.65,224.64 L56.21,222.59 L56.77,220.54 L57.34,218.49 L57.90,216.45 L58.47,214.42 L59.03,212.39 L59.59,210.37 L60.16,208.36 L60.72,206.36 L61.29,204.36 L61.85,202.37 L62.41,200.38 L62.98,198.41 L63.54,196.44 L64.11,194.48 L64.67,192.53 L65.23,190.59 L65.80,188.65 L66.36,186.72 L66.92,184.81 L67.49,182.90 L68.05,181.00 L68.62,179.11 L69.18,177.23 L69.74,175.36 L70.31,173.50 L70.87,171.64 L71.44,169.80 L72.00,167.97 L72.56,166.15 L73.13,164.34 L73.69,162.54 L74.26,160.75 L74.82,158.97 L75.38,157.20 L75.95,155.45 L76.51,153.70 L77.08,151.97 L77.64,150.25 L78.20,148.54 L78.77,146.84 L79.33,145.15 L79.90,143.48 L80.46,141.81 L81.02,140.16 L81.59,138.53 L82.15,136.90 L82.72,135.29 L83.28,133.69 L83.84,132.10 L84.41,130.53 L84.97,128.96 L85.54,127.42 L86.10,125.88 L86.66,124.36 L87.23,122.85 L87.79,121.36 L88.36,119.88 L88.92,118.41 L89.48,116.96 L90.05,115.52 L90.61,114.09 L91.18,112.68 L91.74,111.28 L92.30,109.90 L92.87,108.53 L93.43,107.18 L94.00,105.84 L94.56,104.51 L95.12,103.20 L95.69,101.91 L96.25,100.63 L96.82,99.36 L97.38,98.11 L97.94,96.88 L98.51,95.66 L99.07,94.45 L99.64,93.26 L100.20,92.09 L100.76,90.93 L101.33,89.78 L101.89,88.65 L102.46,87.54 L103.02,86.44 L103.58,85.36 L104.15,84.29 L104.71,83.24 L105.27,82.21 L105.84,81.19 L106.40,80.18 L106.97,79.19 L107.53,78.22 L108.09,77.26 L108.66,76.32 L109.22,75.40 L109.79,74.49 L110.35,73.60 L110.91,72.72 L111.48,71.86 L112.04,71.01 L112.61,70.18 L113.17,69.37 L113.73,68.57 L114.30,67.79 L114.86,67.03 L115.43,66.28 L115.99,65.55 L116.55,64.83 L117.12,64.13 L117.68,63.44 L118.25,62.77 L118.81,62.12 L119.37,61.48 L119.94,60.86 L120.50,60.26 L121.07,59.67 L121.63,59.10 L122.19,58.54 L122.76,58.00 L123.32,57.47 L123.89,56.96 L124.45,56.47 L125.01,55.99 L125.58,55.53 L126.14,55.09 L126.71,54.65 L127.27,54.24 L127.83,53.84 L128.40,53.46 L128.96,53.09 L129.53,52.74 L130.09,52.40 L130.65,52.08 L131.22,51.77 L131.78,51.48 L132.35,51.21 L132.91,50.95 L133.47,50.70 L134.04,50.47 L134.60,50.26 L135.17,50.06 L135.73,49.87 L136.29,49.70 L136.86,49.55 L137.42,49.41 L137.99,49.28 L138.55,49.17 L139.11,49.08 L139.68,49.00 L140.24,48.93 L140.81,48.88 L141.37,48.84 L141.93,48.82 L142.50,48.81 L143.06,48.81 L143.63,48.83 L144.19,48.86 L144.75,48.91 L145.32,48.97 L145.88,49.04 L146.44,49.13 L147.01,49.23 L147.57,49.34 L148.14,49.47 L148.70,49.61 L149.26,49.77 L149.83,49.93 L150.39,50.11 L150.96,50.31 L151.52,50.51 L152.08,50.73 L152.65,50.96 L153.21,51.21 L153.78,51.46 L154.34,51.73 L154.90,52.01 L155.47,52.31 L156.03,52.61 L156.60,52.93 L157.16,53.26 L157.72,53.60 L158.29,53.95 L158.85,54.32 L159.42,54.69 L159.98,55.08 L160.54,55.48 L161.11,55.89 L161.67,56.31 L162.24,56.74 L162.80,57.18 L163.36,57.64 L163.93,58.10 L164.49,58.57 L165.06,59.06 L165.62,59.55 L166.18,60.06 L166.75,60.57 L167.31,61.10 L167.88,61.63 L168.44,62.18 L169.00,62.73 L169.57,63.29 L170.13,63.87 L170.70,64.45 L171.26,65.04 L171.82,65.64 L172.39,66.25 L172.95,66.87 L173.52,67.50 L174.08,68.13 L174.64,68.77 L175.21,69.43 L175.77,70.09 L176.34,70.75 L176.90,71.43 L177.46,72.12 L178.03,72.81 L178.59,73.51 L179.16,74.21 L179.72,74.93 L180.28,75.65 L180.85,76.38 L181.41,77.12 L181.98,77.86 L182.54,78.61 L183.10,79.37 L183.67,80.13 L184.23,80.90 L184.79,81.68 L185.36,82.46 L185.92,83.25 L186.49,84.04 L187.05,84.84 L187.61,85.65 L188.18,86.46 L188.74,87.28 L189.31,88.10 L189.87,88.93 L190.43,89.76 L191.00,90.60 L191.56,91.44 L192.13,92.29 L192.69,93.14 L193.25,94.00 L193.82,94.86 L194.38,95.73 L194.95,96.60 L195.51,97.48 L196.07,98.36 L196.64,99.24 L197.20,100.13 L197.77,101.02 L198.33,101.91 L198.89,102.81 L199.46,103.71 L200.02,104.61 L200.59,105.52 L201.15,106.43 L201.71,107.35 L202.28,108.26 L202.84,109.18 L203.41,110.11 L203.97,111.03 L204.53,111.96 L205.10,112.89 L205.66,113.82 L206.23,114.76 L206.79,115.69 L207.35,116.63 L207.92,117.57 L208.48,118.51 L209.05,119.46 L209.61,120.40 L210.17,121.35 L210.74,122.30 L211.30,123.25 L211.87,124.20 L212.43,125.15 L212.99,126.10 L213.56,127.06 L214.12,128.01 L214.69,128.97 L215.25,129.92 L215.81,130.88 L216.38,131.84 L216.94,132.79 L217.51,133.75 L218.07,134.71 L218.63,135.67 L219.20,136.62 L219.76,137.58 L220.33,138.54 L220.89,139.50 L221.45,140.46 L222.02,141.41 L222.58,142.37 L223.15,143.33 L223.71,144.28 L224.27,145.24 L224.84,146.19 L225.40,147.14 L225.96,148.09 L226.53,149.05 L227.09,150.00 L227.66,150.94 L228.22,151.89 L228.78,152.84 L229.35,153.78 L229.91,154.73 L230.48,155.67 L231.04,156.61 L231.60,157.55 L232.17,158.49 L232.73,159.42 L233.30,160.36 L233.86,161.29 L234.42,162.22 L234.99,163.15 L235.55,164.07 L236.12,165.00 L236.68,165.92 L237.24,166.84 L237.81,167.75 L238.37,168.67 L238.94,169.58 L239.50,170.49 L240.06,171.40 L240.63,172.30 L241.19,173.20 L241.76,174.10 L242.32,175.00 L242.88,175.89 L243.45,176.79 L244.01,177.67 L244.58,178.56 L245.14,179.44 L245.70,180.32 L246.27,181.20 L246.83,182.07 L247.40,182.94 L247.96,183.81 L248.52,184.67 L249.09,185.53 L249.65,186.39 L250.22,187.24 L250.78,188.09 L251.34,188.94 L251.85,189.69" stroke="#000000" stroke-dasharray="2.6 3.727" stroke-dashoffset="0.2"/>
<path d="M251.85,189.69 L251.91,189.78 L252.47,190.62 L253.04,191.46 L253.60,192.29 L254.16,193.12 L254.73,193.94 L255.29,194.77 L255.86,195.58 L256.42,196.40 L256.98,197.21 L257.55,198.02 L258.11,198.82 L258.68,199.62 L259.24,200.41 L259.80,201.21 L260.37,201.99 L260.93,202.78 L261.50,203.56 L262.06,204.33 L262.62,205.10 L263.19,205.87 L263.75,206.63 L264.31,207.39 L264.88,208.15 L265.44,208.90 L266.01,209.65 L266.57,210.39 L267.13,211.13 L267.70,211.87 L268.26,212.60 L268.83,213.32 L269.39,214.04 L269.95,214.76 L270.52,215.48 L271.08,216.19 L271.65,216.89 L272.21,217.59 L272.77,218.29 L273.34,218.98 L273.90,219.67 L274.47,220.35 L275.03,221.03 L275.59,221.71 L276.16,222.38 L276.72,223.04 L277.29,223.71 L277.85,224.36 L278.41,225.02 L278.98,225.67 L279.54,226.31 L280.11,226.95 L280.67,227.59 L281.23,228.22 L281.80,228.85 L282.36,229.47 L282.93,230.09 L283.49,230.70 L284.05,231.31 L284.62,231.92 L285.18,232.52 L285.75,233.12 L286.31,233.71 L286.87,234.30 L287.44,234.88 L288.00,235.46 L288.57,236.04 L289.13,236.61 L289.69,237.17 L290.26,237.74 L290.82,238.29 L291.39,238.85 L291.95,239.40 L292.51,239.94 L293.08,240.48 L293.64,241.02 L294.21,241.55 L294.77,242.08 L295.33,242.60 L295.90,243.12 L296.46,243.64 L297.03,244.15 L297.59,244.66 L298.15,245.16 L298.72,245.66 L299.28,246.15 L299.85,246.64 L300.41,247.13 L300.97,247.61 L301.54,248.09 L302.10,248.56 L302.66,249.03 L303.23,249.50 L303.79,249.96 L304.36,250.42 L304.92,250.87 L305.48,251.32 L306.05,251.77 L306.61,252.21 L307.18,252.65 L307.74,253.08 L308.30,253.51 L308.87,253.94 L309.43,254.36 L310.00,254.78 L310.56,255.19 L311.12,255.61 L311.69,256.01 L312.25,256.42 L312.82,256.81 L313.38,257.21 L313.94,257.60 L314.51,257.99 L315.07,258.37 L315.64,258.76 L316.20,259.13 L316.76,259.51 L317.33,259.88 L317.89,260.24 L318.46,260.60 L319.02,260.96 L319.58,261.32 L320.15,261.67 L320.71,262.02 L321.28,262.37 L321.84,262.71 L322.40,263.04 L322.97,263.38 L323.53,263.71 L324.10,264.04 L324.66,264.36 L325.22,264.68 L325.79,265.00 L326.35,265.32 L326.92,265.63 L327.48,265.94 L328.04,266.24 L328.61,266.54 L329.17,266.84 L329.74,267.14 L330.30,267.43 L330.86,267.72 L331.43,268.00 L331.99,268.29 L332.56,268.57 L333.12,268.84 L333.68,269.12 L334.25,269.39 L334.81,269.66 L335.38,269.92 L335.94,270.18 L336.50,270.44 L337.07,270.70 L337.63,270.95 L338.20,271.20 L338.76,271.45 L339.32,271.70 L339.89,271.94 L340.45,272.18 L341.02,272.41 L341.58,272.65 L342.14,272.88 L342.71,273.11 L343.27,273.33 L343.83,273.56 L344.40,273.78 L344.96,274.00 L345.53,274.21 L346.09,274.42 L346.65,274.64 L347.22,274.84 L347.78,275.05 L348.35,275.25 L348.91,275.45 L349.47,275.65 L350.04,275.85 L350.60,276.04 L351.17,276.23 L351.73,276.42 L352.29,276.61 L352.86,276.79 L353.42,276.97 L353.99,277.15 L354.55,277.33 L355.11,277.51 L355.68,277.68 L356.24,277.85 L356.81,278.02 L357.37,278.19 L357.93,278.35 L358.50,278.52 L359.06,278.68 L359.63,278.84 L360.19,278.99 L360.75,279.15 L361.32,279.30 L361.88,279.45 L362.45,279.60 L363.01,279.75 L363.57,279.89 L364.14,280.03 L364.70,280.18 L365.27,280.32 L365.83,280.45 L366.39,280.59 L366.96,280.72 L367.52,280.86 L368.09,280.99 L368.65,281.11 L369.21,281.24 L369.78,281.37 L370.34,281.49 L370.91,281.61 L371.47,281.73 L372.03,281.85 L372.60,281.97 L373.16,282.09 L373.73,282.20 L374.29,282.31 L374.85,282.42 L375.42,282.53 L375.98,282.64 L376.55,282.75 L377.11,282.85 L377.67,282.96 L378.24,283.06 L378.80,283.16 L379.37,283.26 L379.93,283.36 L380.49,283.45 L381.06,283.55 L381.62,283.64 L382.18,283.73 L382.75,283.82 L383.31,283.91 L383.88,284.00 L384.44,284.09 L385.00,284.18 L385.57,284.26 L386.13,284.35 L386.70,284.43 L387.26,284.51 L387.82,284.59 L388.39,284.67 L388.95,284.75 L389.52,284.82 L390.08,284.90 L390.64,284.97 L391.21,285.05 L391.77,285.12 L392.34,285.19 L392.90,285.26 L393.46,285.33 L394.03,285.40 L394.59,285.46 L395.16,285.53 L395.72,285.60 L396.28,285.66 L396.85,285.72 L397.41,285.78 L397.98,285.85 L398.54,285.91 L399.10,285.97 L399.67,286.02 L400.23,286.08 L400.80,286.14 L401.36,286.19 L401.92,286.25 L402.49,286.30 L403.05,286.36 L403.62,286.41 L404.18,286.46 L404.74,286.51 L405.31,286.56 L405.87,286.61 L406.44,286.66 L407.00,286.71 L407.56,286.76 L408.13,286.80 L408.69,286.85 L409.26,286.89 L409.82,286.94 L410.38,286.98 L410.95,287.02 L411.51,287.06 L412.08,287.11 L412.64,287.15 L413.20,287.19 L413.77,287.23 L414.33,287.26 L414.90,287.30 L415.46,287.34 L416.02,287.38 L416.59,287.41 L417.15,287.45 L417.72,287.48 L418.28,287.52 L418.84,287.55 L419.41,287.59 L419.97,287.62 L420.54,287.65 L421.10,287.68 L421.66,287.72 L422.23,287.75 L422.79,287.78 L423.35,287.81 L423.92,287.84 L424.48,287.86 L425.05,287.89 L425.61,287.92 L426.17,287.95 L426.74,287.97 L427.30,288.00 L427.87,288.03 L428.43,288.05 L428.99,288.08 L429.56,288.10 L430.12,288.13 L430.69,288.15 L431.25,288.17 L431.81,288.20 L432.38,288.22 L432.94,288.24 L433.51,288.26 L434.07,288.29 L434.63,288.31 L435.20,288.33 L435.76,288.35 L436.33,288.37 L436.89,288.39 L437.45,288.41 L438.02,288.43 L438.58,288.44 L439.15,288.46" stroke="#000000" stroke-dasharray="2.6 3.807" stroke-dashoffset="4.81"/>
</g>
<g fill="#000" clip-path="url(#c)">
<circle cx="43.7" cy="175.4" r="3.0"/><circle cx="57.8" cy="81.7" r="3.0"/><circle cx="73.3" cy="54.2" r="3.0"/><circle cx="96.4" cy="58.0" r="3.0"/><circle cx="137.7" cy="104.7" r="3.0"/><circle cx="151.7" cy="123.6" r="3.0"/><circle cx="167.2" cy="142.5" r="3.0"/><circle cx="183.9" cy="160.4" r="3.0"/><circle cx="199.3" cy="176.5" r="3.0"/><circle cx="221.0" cy="194.2" r="3.0"/><circle cx="240.4" cy="208.0" r="3.0"/><circle cx="264.8" cy="227.0" r="3.0"/><circle cx="293.2" cy="241.1" r="3.0"/><circle cx="322.5" cy="252.4" r="3.0"/><circle cx="349.6" cy="262.1" r="3.0"/><circle cx="378.2" cy="266.2" r="3.0"/><circle cx="403.9" cy="272.6" r="3.0"/><circle cx="429.4" cy="276.3" r="3.0"/><circle cx="45.0" cy="227.2" r="3.0"/><circle cx="57.9" cy="161.5" r="3.0"/><circle cx="73.2" cy="116.1" r="3.0"/><circle cx="87.3" cy="92.0" r="3.0"/><circle cx="98.7" cy="80.75" r="3.0"/><circle cx="112.75" cy="74.2" r="3.0"/><circle cx="116.8" cy="73.0" r="3.0"/><circle cx="136.4" cy="79.3" r="3.0"/><circle cx="150.4" cy="88.25" r="3.0"/><circle cx="162.0" cy="98.4" r="3.0"/><circle cx="187.7" cy="123.6" r="3.0"/><circle cx="201.8" cy="139.8" r="3.0"/><circle cx="227.4" cy="170.0" r="3.0"/><circle cx="254.7" cy="196.5" r="3.0"/><circle cx="267.5" cy="210.6" r="3.0"/><circle cx="279.1" cy="219.5" r="3.0"/><circle cx="293.3" cy="231.9" r="3.0"/><circle cx="306.3" cy="240.8" r="3.0"/><circle cx="331.8" cy="256.2" r="3.0"/><circle cx="357.5" cy="266.15" r="3.0"/><circle cx="384.5" cy="275.0" r="3.0"/><circle cx="410.3" cy="281.4" r="3.0"/><circle cx="437.3" cy="283.9" r="3.0"/>
</g>
</svg>
<svg width="463" height="327" viewBox="0 0 463 327">
<g fill="#000" font-family="'Liberation Serif', serif">
<text x="14" y="31.5" font-size="29">p(s)</text>
<text x="2" y="109.6" font-size="23.5">0.6</text>
<text x="2.8" y="204.7" font-size="23.5">0.3</text>
<text x="168.8" y="319.9" font-size="23.5" text-anchor="middle">1</text>
<text x="299.4" y="319.7" font-size="23.5" text-anchor="middle">2</text>
<text x="430.1" y="319.8" font-size="23.5" text-anchor="middle">3</text>
<text x="449.2" y="301.8" font-size="29">s</text>
</g>
</svg>
</body></html>
